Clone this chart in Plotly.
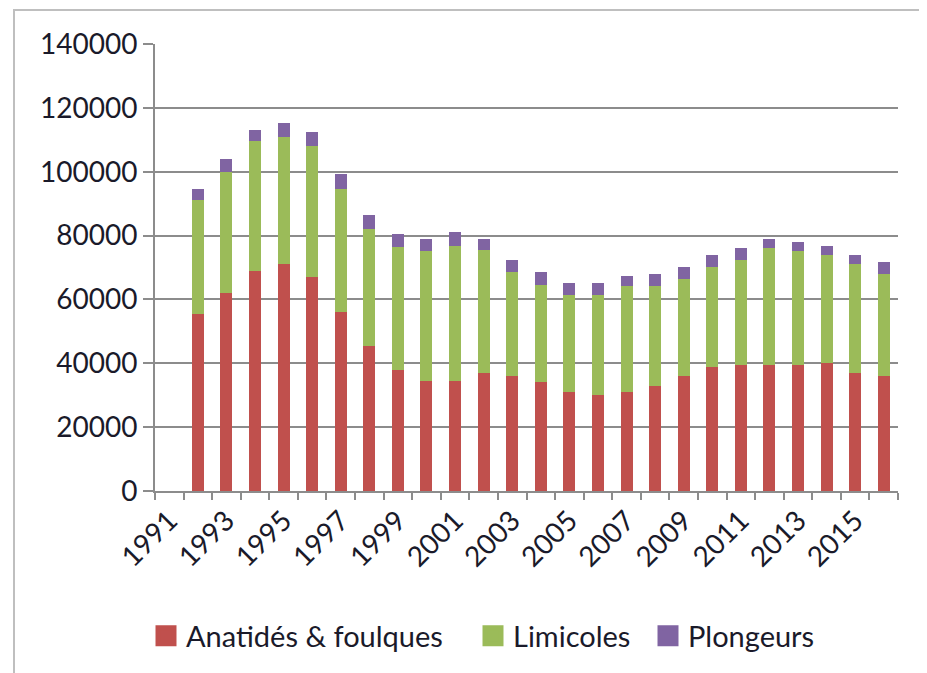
import plotly.graph_objects as go

years = list(range(1992, 2017))
anatides = [55500, 62000, 69000, 71000, 67000, 56000, 45500, 38000, 34500, 34500,
            37000, 36000, 34000, 31000, 30000, 31000, 33000, 36000, 38700, 39500,
            39500, 39500, 40200, 37000, 36000]
limicoles = [35500, 38000, 40500, 40000, 41000, 38700, 36500, 38500, 40700, 42200,
             38500, 32600, 30500, 30300, 31300, 33300, 31300, 30400, 31500, 32800,
             36500, 35700, 33700, 34000, 32000]
plongeurs = [3700, 4000, 3500, 4300, 4300, 4500, 4300, 3900, 3700, 4300,
             3400, 3700, 4100, 3700, 3700, 3000, 3600, 3800, 3700, 3700,
             2900, 2800, 2800, 2900, 3800]
tick_years = list(range(1991, 2017, 2))
series_names = ["Anatidés & foulques", "Limicoles", "Plongeurs"]
colors = ["#C0504D", "#9BBB59", "#8064A2"]

FONT = "Lato, 'Liberation Sans', sans-serif"
GRID = "#8C8C8C"

# page body has an 8px margin; work in page pixels and offset
OFF = 8
W, H = 927 - OFF, 673 - OFF
L, R, T, B = 155 - OFF, 927 - 898, 44 - OFF, 673 - 491
pw, ph = W - L - R, H - T - B

def px2x(p):
    return (p - OFF - L) / pw

def px2y(p):
    return (H - B - (p - OFF)) / ph

legend_ids = ["legend", "legend2", "legend3"]
legend_left = [146, 473, 648]

fig = go.Figure()
for name, vals, col, lid in zip(series_names, [anatides, limicoles, plongeurs], colors, legend_ids):
    fig.add_trace(go.Bar(x=years, y=vals, name=name, marker_color=col,
                         marker_line_width=0, showlegend=False, legendgroup=name))
    # legend entry with a larger square swatch
    fig.add_trace(go.Scatter(x=[None], y=[None], mode="markers", name=name,
                             legend=lid, legendgroup=name,
                             marker=dict(symbol="square", size=16, color=col,
                                         line=dict(color=col, width=5))))

legend_style = dict(orientation="h", yanchor="middle", xanchor="left",
                    font=dict(size=29, family=FONT, color="#1a1a2a"),
                    bgcolor="rgba(0,0,0,0)", itemwidth=30, itemsizing="trace")
layout_legends = {}
for lid, lx in zip(legend_ids, legend_left):
    layout_legends[lid] = dict(legend_style, x=px2x(lx), y=px2y(636))

fig.update_layout(
    width=W, height=H,
    margin=dict(l=L, r=R, t=T, b=B, pad=0),
    barmode="stack", bargap=0.58,
    plot_bgcolor="white", paper_bgcolor="white",
    font=dict(family=FONT, size=28, color="#1a1a2a"),
    showlegend=True,
    shapes=[dict(type="rect", xref="paper", yref="paper",
                 x0=px2x(14), x1=px2x(1000), y0=px2y(800), y1=px2y(10),
                 line=dict(color="#BFBFBF", width=2), layer="below")],
    **layout_legends,
)
fig.update_xaxes(
    range=[1990.5, 2016.5],
    tickmode="array", tickvals=tick_years, ticktext=[str(y) for y in tick_years],
    tickangle=-45, ticks="", showgrid=False, zeroline=False,
    showline=True, linecolor=GRID, linewidth=2,
    tickfont=dict(size=28),
    minor=dict(tickmode="linear", tick0=0.5, dtick=1, ticks="outside",
               ticklen=7, tickcolor=GRID, tickwidth=2, showgrid=False),
)
fig.update_yaxes(
    range=[0, 140000], dtick=20000, tickformat="d",
    showgrid=True, gridcolor=GRID, gridwidth=2, zeroline=False,
    showline=True, linecolor=GRID, linewidth=2,
    ticks="outside", ticklen=10, tickcolor=GRID, tickwidth=2,
    tickfont=dict(size=28),
)

fig.write_html("out.html")
